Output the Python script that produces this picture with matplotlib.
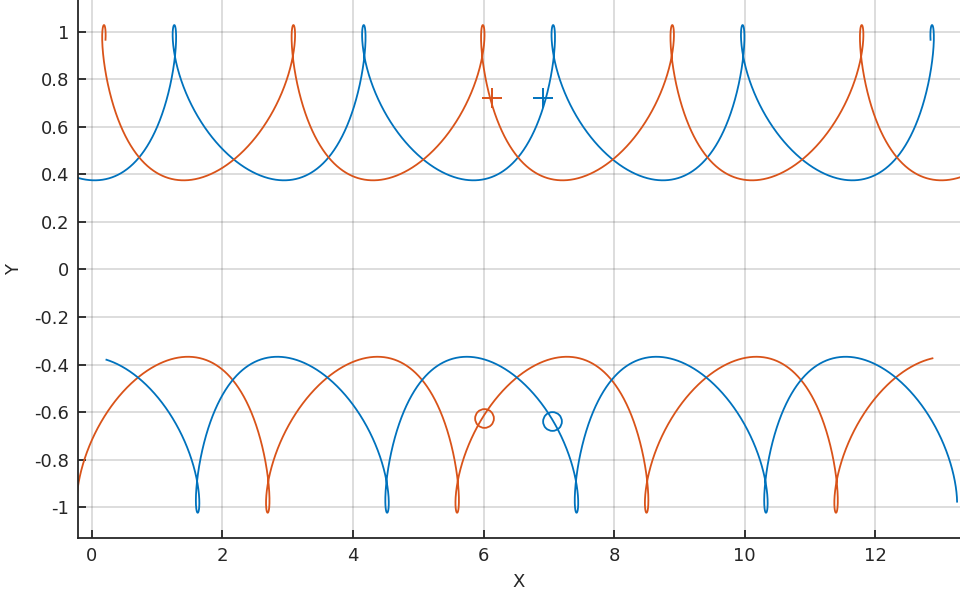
import numpy as np
import matplotlib
matplotlib.use("Agg")
import matplotlib.pyplot as plt

# couleurs MATLAB par defaut
BLEU = "#0072BD"
ORANGE = "#D95319"

# courbes : haut bleu, haut orange, bas orange, bas bleu
periode = 2.901                       # distance entre deux boucles
pos_boucle = [1.265, 11.792, 2.695, 13.227]   # x d'une boucle (t = 0)
sens = [1, -1, 1, -1]
y_centre = [0.7015, 0.7015, -0.695, -0.695]
demi_amplitude = [0.3265, 0.3265, -0.328, -0.328]
t_debut = [-3.74, -3.74, -2 * np.pi + 0.62, 0.54]
t_fin = [8 * np.pi + 0.626, 8 * np.pi + 0.626, 7 * np.pi - 0.2, 9 * np.pi - 0.277]
couleurs = [BLEU, ORANGE, ORANGE, BLEU]

rapport_boucle = 1.162   # b / a, taille des boucles
decalage_creux = 0.23    # asymetrie des arches

# marqueurs
plus_x = [6.135, 6.916]
plus_y = [0.72, 0.72]
rond_x = [6.01, 7.045]
rond_y = [-0.626, -0.637]
couleurs_marqueurs = [ORANGE, BLEU]

xticks = [0, 2, 4, 6, 8, 10, 12]
yticks = [-1, -0.8, -0.6, -0.4, -0.2, 0, 0.2, 0.4, 0.6, 0.8, 1]


def trajectoire(i):
    a = periode / (2 * np.pi)
    b = rapport_boucle * a
    t = np.linspace(t_debut[i], t_fin[i], 4000)
    f = a * t - b * np.sin(t) + decalage_creux * ((1 - np.cos(t)) / 2) ** 2
    x = pos_boucle[i] + sens[i] * f
    y = y_centre[i] + demi_amplitude[i] * np.cos(t)
    return x, y


fig = plt.figure(figsize=(9.6, 5.96), dpi=100)
ax = fig.add_axes([77.5 / 960, (596 - 538.3) / 596, (960 - 77.5) / 960, 538.3 / 596])

for i in range(4):
    x, y = trajectoire(i)
    ax.plot(x, y, color=couleurs[i], lw=1.3)

for i in range(2):
    ax.plot(plus_x[i], plus_y[i], marker="+", ms=15, mew=1.4,
            color=couleurs_marqueurs[i], ls="none")
    ax.plot(rond_x[i], rond_y[i], marker="o", ms=13.5, mew=1.3, mfc="none",
            color=couleurs_marqueurs[i], ls="none")

ax.set_xlim(-0.2175, 13.297)
ax.set_ylim(-1.1304, 1.1333)
ax.set_xticks(xticks)
ax.set_xticklabels([str(v) for v in xticks])
ax.set_yticks(yticks)
ax.set_yticklabels([("%g" % v) for v in yticks])

for cote in ["top", "right"]:
    ax.spines[cote].set_visible(False)
for cote in ["left", "bottom"]:
    ax.spines[cote].set_color("#262626")
    ax.spines[cote].set_linewidth(1.3)

ax.tick_params(direction="in", length=6, width=1.3, colors="#262626",
               labelsize=13, pad=6)
ax.grid(True, color="#262626", alpha=0.17, lw=1.3)
ax.set_axisbelow(True)

ax.set_xlabel("X", fontsize=13, color="#262626", labelpad=6)
ax.set_ylabel("Y", fontsize=13, color="#262626", labelpad=8)

fig.savefig("out.png", dpi=100)
